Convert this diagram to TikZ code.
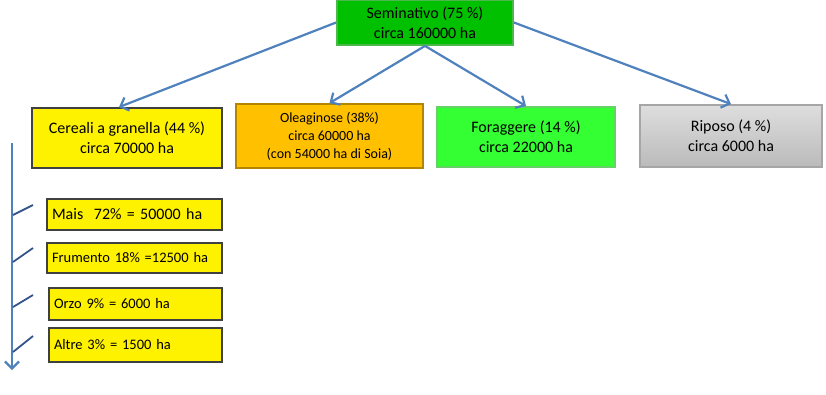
\documentclass[tikz,border=0pt]{standalone}
\usepackage{fontspec}
\setmainfont{Carlito}
\usetikzlibrary{arrows.meta,positioning}
\usepackage{xcolor}
\definecolor{semigreen}{HTML}{00C000}
\definecolor{foragreen}{HTML}{33FF33}
\definecolor{oleaorange}{HTML}{FFC000}
\definecolor{arrowblue}{HTML}{4F81BD}
\definecolor{tickblue}{HTML}{34548A}

\begin{document}
\begin{tikzpicture}[
  x=1pt, y=-1pt,
  box/.style={draw, line width=1.8pt, align=center, inner sep=0pt,
    font=\fontsize{16}{20}\selectfont},
  subbox/.style={draw=black!75, fill=yellow, line width=1.8pt, inner xsep=5pt,
    inner ysep=0pt, align=left, font=\fontsize{14.5}{17}\selectfont},
  arrow/.style={draw=arrowblue, line width=2.2pt,
    -{Straight Barb[length=7pt,width=14pt]}},
  tick/.style={draw=tickblue, line width=1.8pt}
]
\useasboundingbox (0,0) rectangle (826,394);

% top level
\node[box, fill=semigreen, draw=green!60!black!70, minimum width=176pt, minimum height=45pt]
  (semi) at (425,22.5) {Seminativo (75 \%)\\circa 160000 ha};

% second level
\node[box, fill=yellow, draw=black!75, minimum width=190pt, minimum height=60pt]
  (cereali) at (127,138) {Cereali a granella (44 \%)\\circa 70000 ha};
\node[box, fill=oleaorange, draw=oleaorange!70!black, minimum width=187pt, minimum height=64pt,
  font=\fontsize{14}{18}\selectfont]
  (olea) at (329.5,136) {Oleaginose (38\%)\\circa 60000 ha\\(con 54000 ha di Soia)};
\node[box, fill=foragreen, draw=green!70!black!60, minimum width=178pt, minimum height=60pt]
  (forag) at (526,137) {Foraggere (14 \%)\\circa 22000 ha};
\node[box, top color=black!13, bottom color=black!27, draw=black!35, minimum width=182pt,
  minimum height=62pt]
  (riposo) at (731,136) {Riposo (4 \%)\\circa 6000 ha};

% cereali breakdown
\node[subbox, text width=165pt, minimum height=31pt, font=\fontsize{16}{19}\selectfont]
  (mais) at (134.5,214.5) {Mais\ \ 72\% = 50000 ha};
\node[subbox, text width=165pt, minimum height=30pt]
  (frumento) at (134.5,258) {Frumento 18\% =12500 ha};
\node[subbox, text width=163pt, minimum height=32pt]
  (orzo) at (135.5,304) {Orzo 9\% = 6000 ha};
\node[subbox, text width=163pt, minimum height=34pt]
  (altre) at (135.5,345) {Altre 3\% = 1500 ha};

\draw[arrow] (semi.west) -- ([xshift=-8pt]cereali.north);
\draw[arrow] (semi.south) -- (olea.north);
\draw[arrow] (semi.south) -- (forag.north);
\draw[arrow] (semi.east) -- (riposo.north);

\coordinate (vtop) at (12,143);
\coordinate (vbot) at (12,370);
\draw[arrow] (vtop) -- (vbot);
\foreach \ya/\yb in {215/205, 262/248, 307/295, 352/336}
  \draw[tick] (13,\ya) -- (33,\yb);
\end{tikzpicture}
\end{document}
